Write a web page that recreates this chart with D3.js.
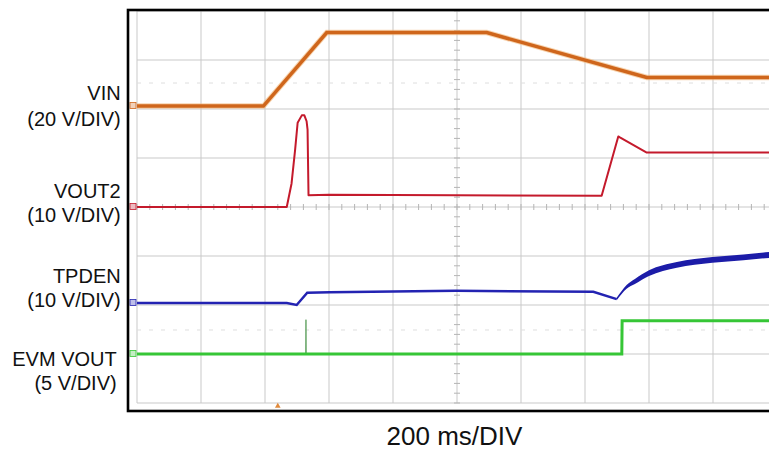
<!DOCTYPE html>
<html>
<head>
<meta charset="utf-8">
<script src="https://cdn.jsdelivr.net/npm/d3@7"></script>
<style>
  html, body { margin: 0; padding: 0; background: #fff; }
  svg { display: block; }
  text { font-family: "Liberation Sans", Arial, sans-serif; fill: #111; }
</style>
</head>
<body>
<div id="scope"></div>
<script>
////////////////////////////////////////////////////////
// scope capture: 4 channels, 200 ms/div, 10 x 8 divisions
// time in ms, values in volts above each channel's ground marker

const timeDomain = [0, 2000];     // 10 div * 200 ms
const divDomain = [-4, 4];        // 8 vertical divisions
const refLevels = [2.53, -2.51];  // faint dashed reference lines (div)
const triggerTime = 440;          // orange marker below the screen

// channel settings: label, V/div, ground marker position (div from centre)
const chNames = ['VIN', 'VOUT2', 'TPDEN', 'EVM VOUT'];
const chScales = ['(20 V/DIV)', '(10 V/DIV)', '(10 V/DIV)', '(5 V/DIV)'];
const chVdiv = [20, 10, 10, 5];
const chRef = [2.06, 0.0, -1.96, -3.0];

// traces [ms, V]
const vinData = [[0, 0], [395, 0], [593, 30.0], [1093, 30.0], [1593, 11.7], [2000, 11.7]];

const vout2Data = [[0, 0], [468, 0], [483, 4.8], [494, 11.6], [502, 17.2], [515, 18.7],
  [523, 18.7], [530, 17.5], [533, 15.8], [536, 2.4], [600, 2.5], [997, 2.4],
  [1452, 2.3], [1504, 14.4], [1509, 14.2], [1593, 11.1], [2000, 11.1]];

const tpdenData = [[0, 0], [468, 0], [499, -0.4], [532, 2.1], [603, 2.2], [997, 2.5],
  [1426, 2.3], [1499, 0.8]];
const tpdenRise = [[1499, 0.8], [1530, 3.3], [1556, 4.4], [1600, 6.1], [1687, 7.8],
  [1798, 8.8], [1895, 9.3], [1975, 9.8], [2000, 9.9]];

const evmData = [[0, 0], [1515, 0], [1516, 3.4], [2000, 3.4]];
const evmGlitch = [[527, 0], [528, 3.5], [529, 0]];

const DIM = {
  size: [769, 451],
  frame: { left: 128, top: 10, bottom: 411 },
  screen: { left: 137, right: 777, top: 11, bottom: 403 }
};

const x = d3.scaleLinear().domain(timeDomain).range([DIM.screen.left, DIM.screen.right]);
const y = d3.scaleLinear().domain(divDomain).range([DIM.screen.bottom, DIM.screen.top]);

function chY(i) {
  return v => y(chRef[i] + v / chVdiv[i]);
}

function traceLine(i) {
  let cy = chY(i);
  return d3.line().x(d => x(d[0])).y(d => cy(d[1]));
}

const svg = d3.select('#scope').append('svg')
  .attr('width', DIM.size[0])
  .attr('height', DIM.size[1]);

svg.append('rect').attr('width', DIM.size[0]).attr('height', DIM.size[1]).attr('fill', '#fff');

// grid
let grid = svg.append('g').attr('class', 'grid');
let xt = d3.range(timeDomain[0], timeDomain[1] + 1, 200);
let yt = d3.range(divDomain[0], divDomain[1] + 1, 1);

grid.selectAll('.vline').data(xt).join('line')
  .attr('x1', d => x(d)).attr('x2', d => x(d))
  .attr('y1', y(divDomain[1])).attr('y2', y(divDomain[0]))
  .attr('stroke', '#c9c9c9').attr('stroke-width', 1);

grid.selectAll('.hline').data(yt).join('line')
  .attr('x1', x(timeDomain[0])).attr('x2', x(timeDomain[1]))
  .attr('y1', d => y(d)).attr('y2', d => y(d))
  .attr('stroke', '#c9c9c9').attr('stroke-width', 1);

grid.selectAll('.ref').data(refLevels).join('line')
  .attr('x1', x(timeDomain[0])).attr('x2', x(timeDomain[1]))
  .attr('y1', d => y(d)).attr('y2', d => y(d))
  .attr('stroke', '#dedede').attr('stroke-width', 1)
  .attr('stroke-dasharray', '4,8');

// minor ticks on the centre axes
let xminor = d3.range(timeDomain[0], timeDomain[1] + 1, 40);
let yminor = d3.range(divDomain[0], divDomain[1] + 0.01, 0.2);
grid.selectAll('.xminor').data(xminor).join('line')
  .attr('x1', d => x(d)).attr('x2', d => x(d))
  .attr('y1', y(0) - 3).attr('y2', y(0) + 3)
  .attr('stroke', '#b5b5b5').attr('stroke-width', 1);
grid.selectAll('.yminor').data(yminor).join('line')
  .attr('x1', x(1000) - 3).attr('x2', x(1000) + 3)
  .attr('y1', d => y(d)).attr('y2', d => y(d))
  .attr('stroke', '#b5b5b5').attr('stroke-width', 1);

// traces
let traces = svg.append('g').attr('class', 'traces');

traces.append('path').datum(vinData)
  .attr('d', traceLine(0)).attr('fill', 'none')
  .attr('stroke', '#f2b77a').attr('stroke-width', 5.5).attr('stroke-opacity', 0.6);
traces.append('path').datum(vinData)
  .attr('d', traceLine(0)).attr('fill', 'none')
  .attr('stroke', '#cf661c').attr('stroke-width', 3.5);

traces.append('path').datum(vout2Data)
  .attr('d', traceLine(1)).attr('fill', 'none')
  .attr('stroke', '#c41a2c').attr('stroke-width', 2).attr('stroke-linejoin', 'round');

traces.append('path').datum(tpdenData)
  .attr('d', traceLine(2)).attr('fill', 'none')
  .attr('stroke', '#2323b2').attr('stroke-width', 2.5);

// noisy recovery: band widens as the node charges
let tpY = chY(2);
let halfw = t => Math.min(2.9, 1.25 + (t - tpdenRise[0][0]) / 45);
traces.append('path').datum(tpdenRise)
  .attr('d', d3.area()
    .x(d => x(d[0]))
    .y0(d => tpY(d[1]) + halfw(d[0]))
    .y1(d => tpY(d[1]) - halfw(d[0]))
    .curve(d3.curveMonotoneX))
  .attr('fill', '#1c1ca8');

traces.append('path').datum(evmGlitch)
  .attr('d', traceLine(3)).attr('fill', 'none')
  .attr('stroke', '#6aa86a').attr('stroke-width', 1);
traces.append('path').datum(evmData)
  .attr('d', traceLine(3)).attr('fill', 'none')
  .attr('stroke', '#36c636').attr('stroke-width', 3);

// channel ground markers
const chColors = ['#cf661c', '#c41a2c', '#2323b2', '#36c636'];
svg.selectAll('.marker').data(chRef).join('rect')
  .attr('x', DIM.frame.left + 2).attr('y', d => y(d) - 3.5)
  .attr('width', 6).attr('height', 6)
  .attr('fill', (d, i) => d3.interpolateRgb(chColors[i], '#fff')(0.7))
  .attr('stroke', (d, i) => chColors[i]).attr('stroke-width', 0.8);

// trigger position marker
svg.append('path')
  .attr('d', d3.symbol(d3.symbolTriangle, 14)())
  .attr('transform', `translate(${x(triggerTime)},${DIM.screen.bottom + 3})`)
  .attr('fill', '#e08a3c');

// frame
svg.append('rect')
  .attr('x', DIM.frame.left).attr('y', DIM.frame.top)
  .attr('width', 700).attr('height', DIM.frame.bottom - DIM.frame.top)
  .attr('fill', 'none').attr('stroke', '#000').attr('stroke-width', 2.6);

// channel labels
const labelY = [[99.5, 125.5], [197.7, 221.5], [282.7, 306.5], [366, 390]];
const labelX = [120.7, 120.7, 120.7, 116.7];
let labels = svg.append('g').attr('class', 'labels')
  .attr('text-anchor', 'end').style('font-size', '20px');
chNames.forEach((name, i) => {
  labels.append('text').attr('x', labelX[i]).attr('y', labelY[i][0]).text(name);
  labels.append('text').attr('x', labelX[i]).attr('y', labelY[i][1]).text(chScales[i]);
});

svg.append('text')
  .attr('x', 454.5).attr('y', 445)
  .attr('text-anchor', 'middle').style('font-size', '26px')
  .text('200 ms/DIV');
</script>
</body>
</html>
